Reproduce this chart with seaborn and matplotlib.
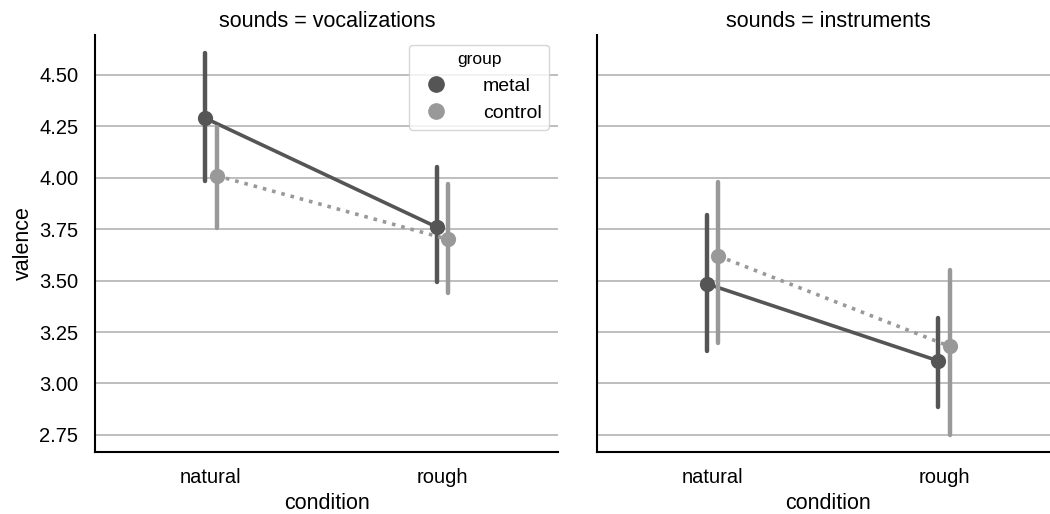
import numpy as np
import pandas as pd
import matplotlib
matplotlib.use("Agg")
import matplotlib.pyplot as plt
from matplotlib.lines import Line2D
import seaborn as sns

sounds = ["vocalizations", "instruments"]
conditions = ["natural", "rough"]
groups = ["metal", "control"]

# mean and error-bar ends, per sounds -> group -> condition
means = {
    "vocalizations": {"metal": [4.29, 3.76], "control": [4.01, 3.70]},
    "instruments": {"metal": [3.485, 3.11], "control": [3.62, 3.18]},
}
lows = {
    "vocalizations": {"metal": [3.985, 3.495], "control": [3.755, 3.44]},
    "instruments": {"metal": [3.16, 2.885], "control": [3.195, 2.75]},
}
highs = {
    "vocalizations": {"metal": [4.607, 4.05], "control": [4.245, 3.97]},
    "instruments": {"metal": [3.82, 3.32], "control": [3.98, 3.55]},
}
yticks = [2.75, 3.0, 3.25, 3.5, 3.75, 4.0, 4.25, 4.5]

rows = []
for s in sounds:
    for g in groups:
        for i, c in enumerate(conditions):
            for v in (lows[s][g][i], means[s][g][i], highs[s][g][i]):
                rows.append({"sounds": s, "group": g, "condition": c, "valence": v})
df = pd.DataFrame(rows)

sns.set_theme(style="whitegrid")
plt.rcParams["font.family"] = ["Liberation Sans", "DejaVu Sans"]
plt.rcParams["text.color"] = "black"
plt.rcParams["axes.labelcolor"] = "black"
plt.rcParams["xtick.color"] = "black"
plt.rcParams["ytick.color"] = "black"

palette = {"metal": "#555555", "control": "#999999"}

fig, axes = plt.subplots(1, 2, figsize=(10.5, 5.14), dpi=100, sharey=True)
fig.subplots_adjust(left=0.0905, right=1.0095, top=0.932, bottom=0.121, wspace=0.082)

for ax, s in zip(axes, sounds):
    sub = df[df["sounds"] == s]
    sns.pointplot(data=sub, x="condition", y="valence", hue="group",
                  order=conditions, hue_order=groups, palette=palette,
                  estimator="median", errorbar=lambda v: (v.min(), v.max()),
                  dodge=True, linestyles=["-", ":"], markers="o",
                  markersize=9, linewidth=2.6, err_kws={"linewidth": 3.2},
                  legend=False, ax=ax)
    ax.set_title(f"sounds = {s}", fontsize=15.5)
    ax.set_xlabel("condition", fontsize=15.5)
    ax.grid(axis="x", visible=False)
    ax.grid(axis="y", color="#acacac", linewidth=1.1)
    ax.tick_params(labelsize=14.5, length=0)
    ax.tick_params(axis="x", pad=12)
    ax.tick_params(axis="y", pad=12)
    for side in ["top", "right"]:
        ax.spines[side].set_visible(False)
    for side in ["left", "bottom"]:
        ax.spines[side].set_color("black")
        ax.spines[side].set_linewidth(1.5)
    ax.set_xlim(-0.5, 1.5)

axes[0].set_ylim(2.668, 4.694)
axes[0].set_yticks(yticks)
axes[0].set_yticklabels([f"{t:.2f}" for t in yticks])
axes[0].set_ylabel("valence", fontsize=15.5)
axes[1].set_ylabel("")

handles = [Line2D([], [], marker="o", linestyle="", markersize=11, color=palette[g]) for g in groups]
leg = axes[0].legend(handles, groups, title="group", loc="upper right",
                     bbox_to_anchor=(0.98, 0.977), borderaxespad=0,
                     fontsize=14, title_fontsize=12.5,
                     frameon=True, handletextpad=1.4)
leg.get_frame().set_edgecolor("#cccccc")

fig.savefig("out.png", dpi=100)
